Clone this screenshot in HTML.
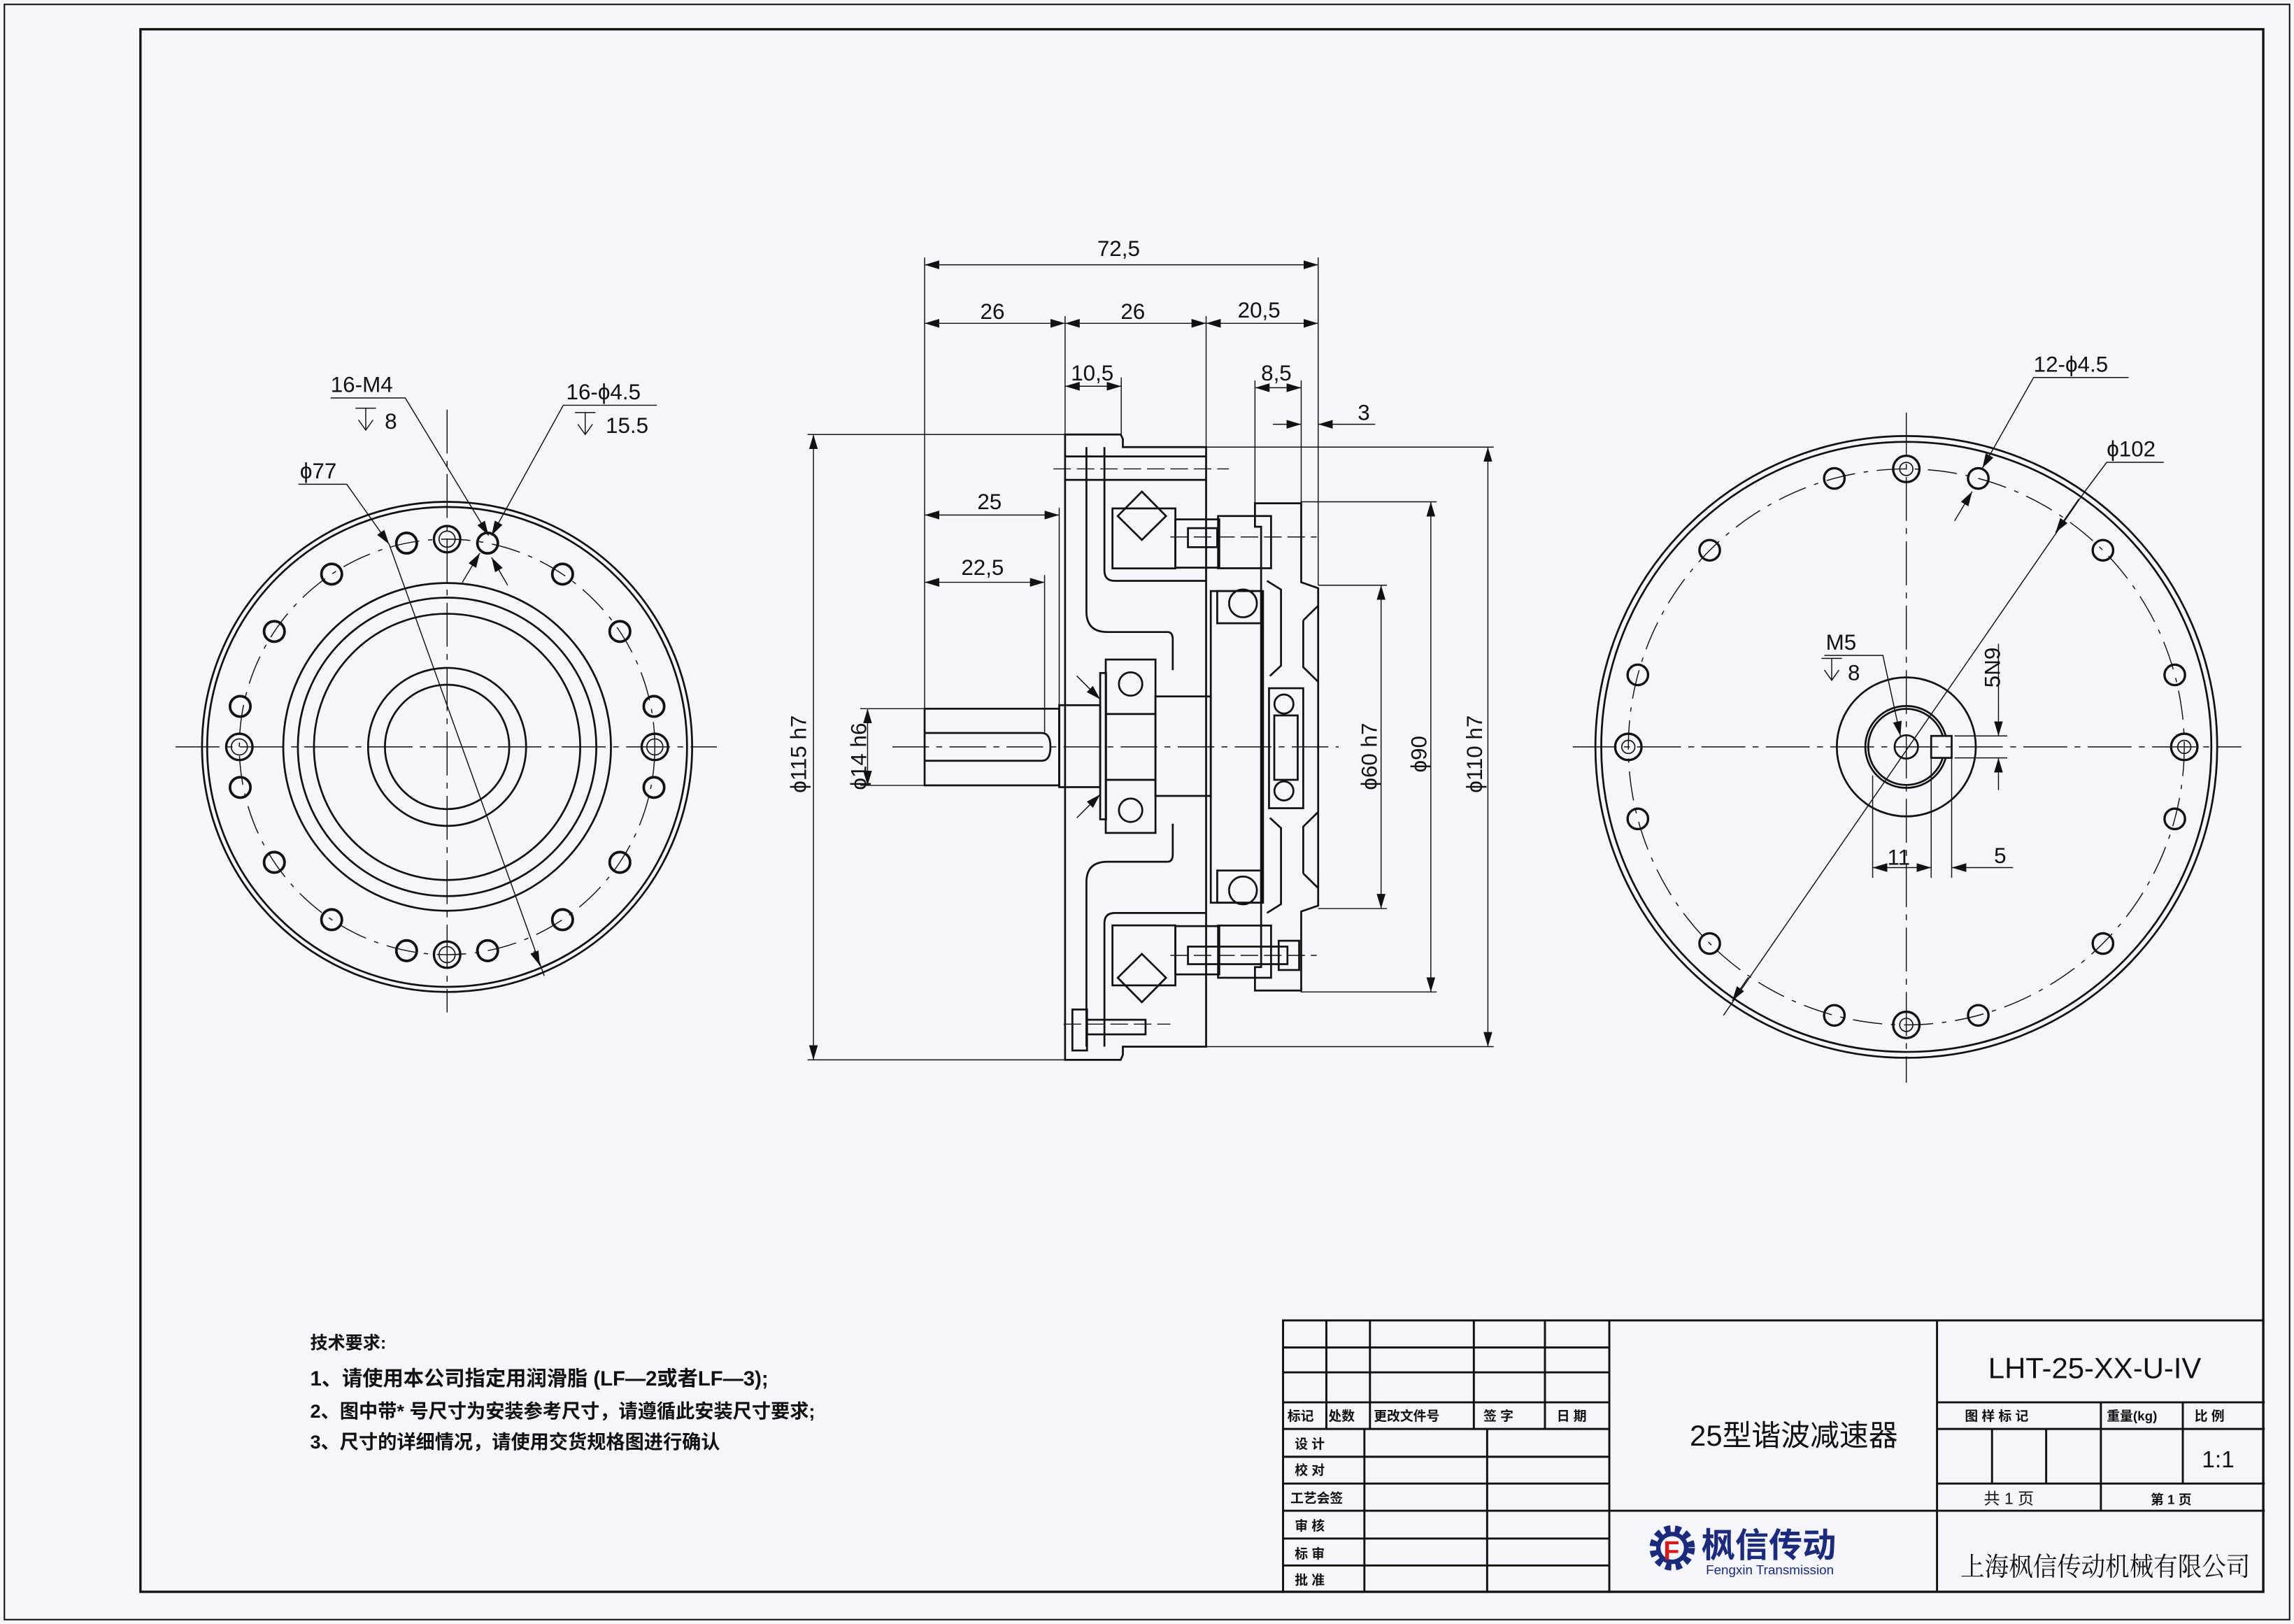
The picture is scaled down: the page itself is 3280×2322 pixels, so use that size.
<!DOCTYPE html>
<html><head><meta charset="utf-8"><style>
html,body{margin:0;padding:0;background:#f4f6fb;}
svg{display:block}
text{font-family:"Liberation Sans","Noto Sans CJK SC",sans-serif;fill:#111;}
.t{font-size:15px;}
.c{font-family:"Liberation Sans","Noto Sans CJK SC",sans-serif;font-weight:bold;}
</style></head><body>
<svg width="3280" height="2322" viewBox="0 0 1568 1110" preserveAspectRatio="none" xmlns="http://www.w3.org/2000/svg">
<defs>
<marker id="a" viewBox="0 0 10 6" refX="10" refY="3" markerWidth="10" markerHeight="6" markerUnits="userSpaceOnUse" orient="auto-start-reverse"><path d="M0,0L10,3L0,6z" fill="#111"/></marker>
</defs>
<rect x="0" y="0" width="1568" height="1110" fill="#f4f6fb"/>
<rect x="3" y="3" width="1562" height="1104" fill="none" stroke="#111" stroke-width="1"/>
<rect x="96" y="20" width="1451" height="1068" fill="none" stroke="#111" stroke-width="1.6"/>

<!-- ============ LEFT VIEW ============ -->
<g fill="none" stroke="#111" stroke-width="1.3">
<circle cx="305.6" cy="510.5" r="167.5"/>
<circle cx="305.6" cy="510.5" r="164"/>
<circle cx="305.6" cy="510.5" r="112"/>
<circle cx="305.6" cy="510.5" r="102"/>
<circle cx="305.6" cy="510.5" r="91"/>
<circle cx="305.6" cy="510.5" r="54"/>
<circle cx="305.6" cy="510.5" r="42.5"/>
</g>
<g fill="none" stroke="#111" stroke-width="0.7">
<circle cx="305.6" cy="510.5" r="142" stroke-dasharray="20,6,3,6"/>
<line x1="120" y1="510.5" x2="490" y2="510.5" stroke-dasharray="30,5,4,5"/>
<line x1="305.6" y1="280" x2="305.6" y2="692" stroke-dasharray="30,5,4,5"/>
</g>
<g fill="none" stroke="#111">
<g stroke-width="1.8">
<circle cx="447.0" cy="538.2" r="7"/><circle cx="447.0" cy="482.8" r="7"/>
<circle cx="423.7" cy="589.4" r="7"/><circle cx="423.7" cy="431.6" r="7"/>
<circle cx="384.5" cy="628.6" r="7"/><circle cx="384.5" cy="392.4" r="7"/>
<circle cx="333.3" cy="649.8" r="7"/><circle cx="333.3" cy="371.2" r="7"/>
<circle cx="277.9" cy="649.8" r="7"/><circle cx="277.9" cy="371.2" r="7"/>
<circle cx="226.7" cy="628.6" r="7"/><circle cx="226.7" cy="392.4" r="7"/>
<circle cx="187.5" cy="589.4" r="7"/><circle cx="187.5" cy="431.6" r="7"/>
<circle cx="164.2" cy="538.2" r="7"/><circle cx="164.2" cy="482.8" r="7"/>
</g>
<g stroke-width="1.6">
<circle cx="447.6" cy="510.5" r="9"/><circle cx="447.6" cy="510.5" r="5.5" stroke-width="0.8"/>
<circle cx="163.6" cy="510.5" r="9"/><circle cx="163.6" cy="510.5" r="5.5" stroke-width="0.8"/>
<circle cx="305.6" cy="368.5" r="9"/><circle cx="305.6" cy="368.5" r="5.5" stroke-width="0.8"/>
<circle cx="305.6" cy="652.5" r="9"/><circle cx="305.6" cy="652.5" r="5.5" stroke-width="0.8"/>
</g>
</g>
<g stroke="#111" stroke-width="0.7" fill="none">
<polyline points="226,272 277,272 334,366" marker-end="url(#a)"/>
<polyline points="449,277 385,277 336,366" marker-end="url(#a)"/>
<line x1="316" y1="398" x2="328" y2="378" marker-end="url(#a)"/>
<line x1="347" y1="400" x2="336" y2="381" marker-end="url(#a)"/>
<polyline points="204,331 237,331 266,372" marker-end="url(#a)"/>
<line x1="266" y1="372" x2="372" y2="667"/>
<line x1="365" y1="650" x2="369" y2="660" marker-end="url(#a)"/>
<path d="M243,279 H257 M250,279 V294 M245,287 L250,294 L255,287"/>
<path d="M393,282 H407 M400,282 V297 M395,290 L400,297 L405,290"/>
<path d="M1245,450 H1259 M1252,450 V465 M1247,458 L1252,465 L1257,458"/>
</g>
<text class="t" x="226" y="268" font-size="15">16-M4</text>
<text class="t" x="263" y="293" font-size="15">8</text>
<text class="t" x="387" y="273" font-size="15">16-ϕ4.5</text>
<text class="t" x="414" y="296" font-size="15">15.5</text>
<text class="t" x="205" y="327" font-size="15">ϕ77</text>

<!-- ============ MIDDLE VIEW ============ -->
<g fill="none" stroke="#111" stroke-width="1.3">
<polygon points="728,297 766,297 767.5,300 767.5,305.6 824.4,305.6 824.4,715.4 767.5,715.4 767.5,721 766,724.4 728,724.4"/>
<path d="M742.6,305.6 V418 Q742.6,432 757,432 H798 Q801.6,432 801.6,437 V458"/>
<path d="M742.6,715.4 V603 Q742.6,589 757,589 H798 Q801.6,589 801.6,584 V563"/>
<path d="M754.9,305.6 V390 Q754.9,397 762,397 H824"/>
<path d="M754.9,715.4 V631 Q754.9,624 762,624 H824"/>
<rect x="760.4" y="347.5" width="43" height="41"/>
<rect x="760.4" y="632.5" width="43" height="41"/>
<rect x="803.4" y="355" width="30" height="33"/>
<rect x="803.4" y="633" width="30" height="33"/>
<line x1="728" y1="312" x2="824" y2="312"/>
<line x1="728" y1="328" x2="824" y2="328"/>
<polygon points="780.5,336 797,352.7 780.5,369 764,352.7"/>
<polygon points="780.5,652 797,668.3 780.5,685 764,668.3"/>
<rect x="755.8" y="450.8" width="34" height="118.5"/>
<line x1="755.8" y1="488" x2="789.8" y2="488"/>
<line x1="755.8" y1="533" x2="789.8" y2="533"/>
<circle cx="772.8" cy="467.5" r="8"/>
<circle cx="772.8" cy="553.8" r="8"/>
<rect x="789.8" y="476" width="37.8" height="68"/>
<rect x="752" y="460" width="4" height="100"/>
<rect x="632" y="484.4" width="92" height="52.4"/>
<path d="M632,501 H712 Q718,501 718,510.5 Q718,520 712,520 H632"/>
<rect x="724" y="482" width="28" height="56"/>
<rect x="827.6" y="404" width="35.7" height="213"/>
<rect x="832" y="404" width="30" height="22"/>
<rect x="832" y="595" width="30" height="22"/>
<circle cx="849.6" cy="412.4" r="9.5"/>
<circle cx="849.6" cy="608.6" r="9.5"/>
<polygon points="857.8,344 889.4,344 889.4,398 901,402 901,619 889.4,623 889.4,677 857.8,677 857.8,661 862,661 862,360 857.8,360"/>
<rect x="832.6" y="352.7" width="36.2" height="35.7"/>
<rect x="832.6" y="632.6" width="36.2" height="35.7"/>
<path d="M866,397 L875.6,403 V455 L868,462"/>
<path d="M866,624 L875.6,618 V566 L868,559"/>
<path d="M890.8,424 L901,414"/>
<path d="M890.8,424 V456 L901,466"/>
<path d="M890.8,597 L901,607"/>
<path d="M890.8,597 V565 L901,555"/>
<rect x="867.4" y="470.4" width="23.4" height="82"/>
<rect x="871" y="489" width="16" height="44"/>
<circle cx="877.6" cy="481.2" r="6.5"/>
<circle cx="877.6" cy="540.6" r="6.5"/>
<rect x="812" y="361" width="20" height="13"/>
<rect x="812" y="647" width="68" height="12"/>
<rect x="874" y="643" width="14" height="20"/>
<rect x="733" y="690" width="10" height="28"/>
<rect x="743" y="697" width="40" height="10"/>
</g>
<g fill="none" stroke="#111" stroke-width="0.7">
<line x1="610" y1="510.5" x2="915" y2="510.5" stroke-dasharray="25,5,4,5"/>
<line x1="720" y1="320.5" x2="840" y2="320.5" stroke-dasharray="12,4"/>
<line x1="800" y1="367" x2="900" y2="367" stroke-dasharray="12,4"/>
<line x1="800" y1="653" x2="900" y2="653" stroke-dasharray="12,4"/>
<line x1="727" y1="700" x2="800" y2="700" stroke-dasharray="12,4"/>
<line x1="736" y1="462" x2="752" y2="478" marker-end="url(#a)"/>
<line x1="736" y1="559" x2="752" y2="543" marker-end="url(#a)"/>
<line x1="632" y1="176" x2="632" y2="484"/>
<line x1="728" y1="216" x2="728" y2="297"/>
<line x1="824.4" y1="216" x2="824.4" y2="305"/>
<line x1="901" y1="176" x2="901" y2="400"/>
<line x1="766.4" y1="258" x2="766.4" y2="297"/>
<line x1="857.8" y1="260" x2="857.8" y2="344"/>
<line x1="889.4" y1="260" x2="889.4" y2="344"/>
<line x1="724" y1="347" x2="724" y2="484"/>
<line x1="714" y1="393" x2="714" y2="501"/>
<line x1="552" y1="297" x2="728" y2="297"/>
<line x1="552" y1="724.4" x2="728" y2="724.4"/>
<line x1="588" y1="484.4" x2="632" y2="484.4"/>
<line x1="588" y1="536.8" x2="632" y2="536.8"/>
<line x1="901" y1="400" x2="948" y2="400"/>
<line x1="901" y1="621" x2="948" y2="621"/>
<line x1="889" y1="343" x2="982" y2="343"/>
<line x1="889" y1="678" x2="982" y2="678"/>
<line x1="824" y1="305.6" x2="1021" y2="305.6"/>
<line x1="824" y1="715.4" x2="1021" y2="715.4"/>
<line x1="632" y1="181" x2="901" y2="181" marker-start="url(#a)" marker-end="url(#a)"/>
<line x1="632" y1="221" x2="728" y2="221" marker-start="url(#a)" marker-end="url(#a)"/>
<line x1="728" y1="221" x2="824.4" y2="221" marker-start="url(#a)" marker-end="url(#a)"/>
<line x1="824.4" y1="221" x2="901" y2="221" marker-start="url(#a)" marker-end="url(#a)"/>
<line x1="728" y1="264" x2="766.4" y2="264" marker-start="url(#a)" marker-end="url(#a)"/>
<line x1="857.8" y1="265" x2="889.4" y2="265" marker-start="url(#a)" marker-end="url(#a)"/>
<line x1="870" y1="290" x2="889.4" y2="290" marker-end="url(#a)"/>
<line x1="940" y1="290" x2="901" y2="290" marker-end="url(#a)"/>
<line x1="632" y1="352" x2="724" y2="352" marker-start="url(#a)" marker-end="url(#a)"/>
<line x1="632" y1="398" x2="714" y2="398" marker-start="url(#a)" marker-end="url(#a)"/>
<line x1="556" y1="297" x2="556" y2="724.4" marker-start="url(#a)" marker-end="url(#a)"/>
<line x1="593" y1="484.4" x2="593" y2="536.8" marker-start="url(#a)" marker-end="url(#a)"/>
<line x1="944" y1="400" x2="944" y2="621" marker-start="url(#a)" marker-end="url(#a)"/>
<line x1="978" y1="343" x2="978" y2="678" marker-start="url(#a)" marker-end="url(#a)"/>
<line x1="1017" y1="305.6" x2="1017" y2="715.4" marker-start="url(#a)" marker-end="url(#a)"/>
</g>
<g class="t" font-size="15">
<text x="750" y="175">72,5</text>
<text x="670" y="218">26</text>
<text x="766" y="218">26</text>
<text x="846" y="217">20,5</text>
<text x="732" y="260">10,5</text>
<text x="862" y="260">8,5</text>
<text x="928" y="287">3</text>
<text x="668" y="348">25</text>
<text x="657" y="393">22,5</text>
<text transform="translate(551,542) rotate(-90)">ϕ115 h7</text>
<text transform="translate(592,540) rotate(-90)">ϕ14 h6</text>
<text transform="translate(941,540) rotate(-90)">ϕ60 h7</text>
<text transform="translate(975,528) rotate(-90)">ϕ90</text>
<text transform="translate(1013,542) rotate(-90)">ϕ110 h7</text>
</g>

<!-- ============ RIGHT VIEW ============ -->
<g fill="none" stroke="#111" stroke-width="1.3">
<circle cx="1303" cy="510.5" r="212.5"/>
<circle cx="1303" cy="510.5" r="208.5"/>
<circle cx="1303" cy="510.5" r="47.5"/>
<circle cx="1303" cy="510.5" r="28"/>
<circle cx="1303" cy="510.5" r="26"/>
<circle cx="1303" cy="510.5" r="8"/>
<rect x="1320" y="503" width="14" height="15" fill="#f4f6fb"/>
</g>
<g fill="none" stroke="#111" stroke-width="0.7">
<circle cx="1303" cy="510.5" r="190" stroke-dasharray="20,6,3,6"/>
<line x1="1075" y1="510.5" x2="1532" y2="510.5" stroke-dasharray="30,5,4,5"/>
<line x1="1303" y1="282" x2="1303" y2="740" stroke-dasharray="30,5,4,5"/>
</g>
<g fill="none" stroke="#111" stroke-width="1.6">
<circle cx="1352.2" cy="327" r="7"/><circle cx="1253.8" cy="327" r="7"/>
<circle cx="1437.4" cy="376.1" r="7"/><circle cx="1168.6" cy="376.1" r="7"/>
<circle cx="1486.5" cy="461.3" r="7"/><circle cx="1119.5" cy="461.3" r="7"/>
<circle cx="1486.5" cy="559.7" r="7"/><circle cx="1119.5" cy="559.7" r="7"/>
<circle cx="1437.4" cy="644.9" r="7"/><circle cx="1168.6" cy="644.9" r="7"/>
<circle cx="1352.2" cy="694" r="7"/><circle cx="1253.8" cy="694" r="7"/>
<circle cx="1303" cy="320.5" r="9"/><circle cx="1303" cy="320.5" r="4.5" stroke-width="0.8"/>
<circle cx="1303" cy="700.5" r="9"/><circle cx="1303" cy="700.5" r="4.5" stroke-width="0.8"/>
<circle cx="1113" cy="510.5" r="9"/><circle cx="1113" cy="510.5" r="4.5" stroke-width="0.8"/>
<circle cx="1493" cy="510.5" r="9"/><circle cx="1493" cy="510.5" r="4.5" stroke-width="0.8"/>
</g>
<g fill="none" stroke="#111" stroke-width="0.7">
<polyline points="1455,258 1390,258 1355,320" marker-end="url(#a)"/>
<line x1="1336" y1="356" x2="1348" y2="336" marker-end="url(#a)"/>
<polyline points="1479,316 1440,316 1425,336"/>
<line x1="1425" y1="336" x2="1178" y2="694"/>
<line x1="1405" y1="364" x2="1421" y2="341" marker-start="url(#a)"/>
<line x1="1195" y1="668" x2="1184" y2="684" marker-end="url(#a)"/>
<polyline points="1247,448 1287,448 1299,503" marker-end="url(#a)"/>
<line x1="1280" y1="530" x2="1280" y2="600"/>
<line x1="1320" y1="518" x2="1320" y2="600"/>
<line x1="1334" y1="518" x2="1334" y2="600"/>
<line x1="1280" y1="593" x2="1320" y2="593" marker-start="url(#a)" marker-end="url(#a)"/>
<line x1="1376" y1="593" x2="1334" y2="593" marker-end="url(#a)"/>
<line x1="1336" y1="503" x2="1372" y2="503"/>
<line x1="1336" y1="518" x2="1372" y2="518"/>
<line x1="1366" y1="480" x2="1366" y2="503" marker-end="url(#a)"/>
<line x1="1366" y1="540" x2="1366" y2="518" marker-end="url(#a)"/>
<line x1="1366" y1="440" x2="1366" y2="480"/>
</g>
<g class="t" font-size="15">
<text x="1390" y="254">12-ϕ4.5</text>
<text x="1440" y="312">ϕ102</text>
<text x="1248" y="444">M5</text>
<text x="1263" y="465">8</text>
<text transform="translate(1367,470) rotate(-90)">5N9</text>
<text x="1290" y="591">11</text>
<text x="1363" y="590">5</text>
</g>

<!-- ============ TECH NOTES ============ -->
<text class="c" x="212" y="922" font-size="12">技术要求:</text>
<text class="c" x="212" y="947" font-size="14">1、请使用本公司指定用润滑脂 (LF—2或者LF—3);</text>
<text class="c" x="212" y="969" font-size="13">2、图中带* 号尺寸为安装参考尺寸，请遵循此安装尺寸要求;</text>
<text class="c" x="212" y="990" font-size="13">3、尺寸的详细情况，请使用交货规格图进行确认</text>

<!-- ============ TITLE BLOCK ============ -->
<g fill="none" stroke="#111" stroke-width="1.4">
<rect x="877" y="902.5" width="670" height="185.5"/>
<line x1="877" y1="921" x2="1100" y2="921"/>
<line x1="877" y1="938" x2="1100" y2="938"/>
<line x1="877" y1="958.5" x2="1100" y2="958.5"/>
<line x1="877" y1="976.7" x2="1100" y2="976.7"/>
<line x1="877" y1="995.7" x2="1100" y2="995.7"/>
<line x1="877" y1="1014" x2="1100" y2="1014"/>
<line x1="877" y1="1032.6" x2="1548" y2="1032.6"/>
<line x1="877" y1="1051.6" x2="1100" y2="1051.6"/>
<line x1="877" y1="1070" x2="1100" y2="1070"/>
<line x1="906.6" y1="902.5" x2="906.6" y2="976.7"/>
<line x1="936.4" y1="902.5" x2="936.4" y2="976.7"/>
<line x1="1007.4" y1="902.5" x2="1007.4" y2="976.7"/>
<line x1="1056" y1="902.5" x2="1056" y2="976.7"/>
<line x1="932.6" y1="976.7" x2="932.6" y2="1088"/>
<line x1="1016.5" y1="976.7" x2="1016.5" y2="1088"/>
<line x1="1100" y1="902.5" x2="1100" y2="1088"/>
<line x1="1324" y1="902.5" x2="1324" y2="1088"/>
<line x1="1324" y1="958.5" x2="1548" y2="958.5"/>
<line x1="1324" y1="976.7" x2="1548" y2="976.7"/>
<line x1="1324" y1="1014" x2="1548" y2="1014"/>
<line x1="1361.6" y1="976.7" x2="1361.6" y2="1014"/>
<line x1="1398.6" y1="976.7" x2="1398.6" y2="1014"/>
<line x1="1436" y1="958.5" x2="1436" y2="1032.6"/>
<line x1="1492" y1="958.5" x2="1492" y2="1014"/>
</g>
<g class="c" font-size="9">
<text x="880" y="971">标记</text><text x="908" y="971">处数</text><text x="939" y="971">更改文件号</text>
<text x="1014" y="971">签  字</text><text x="1064" y="971">日 期</text>
<text x="885" y="990">设  计</text><text x="885" y="1008">校  对</text><text x="882" y="1027">工艺会签</text>
<text x="885" y="1046">审  核</text><text x="885" y="1065">标  审</text><text x="885" y="1083">批  准</text>
<text x="1343" y="971">图 样 标 记</text><text x="1440" y="971">重量(kg)</text><text x="1500" y="971">比  例</text>
<text x="1470" y="1028">第 1 页</text>
</g>
<text x="1356" y="1028" font-size="11">共 1 页</text>
<text x="1155" y="988" font-size="20">25型谐波减速器</text>
<text x="1359" y="942" font-size="20">LHT-25-XX-U-IV</text>
<text x="1505" y="1003" font-size="16">1:1</text>
<text x="1340" y="1077" font-size="18" textLength="198" lengthAdjust="spacingAndGlyphs" style="font-family:'Noto Serif CJK SC',serif">上海枫信传动机械有限公司</text>
<g>
<circle cx="1143" cy="1058" r="13" fill="none" stroke="#1b2a7a" stroke-width="5" stroke-dasharray="4,3"/>
<circle cx="1143" cy="1058" r="9.5" fill="none" stroke="#1b2a7a" stroke-width="3"/>
<text x="1137" y="1066" font-size="18" font-weight="bold" style="fill:#d01c1c">F</text>
<text x="1163" y="1064" font-size="23" font-weight="bold" style="fill:#1b2a7a">枫信传动</text>
<text x="1166" y="1076" font-size="9" style="fill:#1b2a7a">Fengxin Transmission</text>
</g>
</svg>
</body></html>
